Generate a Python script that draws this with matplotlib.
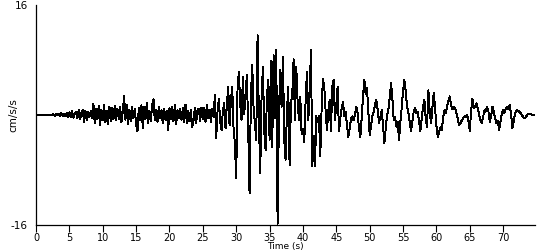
import numpy as np
import matplotlib
matplotlib.use("Agg")
import matplotlib.pyplot as plt

plt.rcParams["axes.unicode_minus"] = False

# acceleration record, one value every 0.2 s (cm/s/s)
dt = 0.2
acc_00 = [0, 0, 0, 0, 0, 0, 0, 0, 0, 0, 0, 0, 0, 0.1, -0.1, 0.2, 0.0, 0.2, -0.2, 0.3, -0.1, 0.2, -0.2, 0.3, -0.3]
acc_05 = [0.4, -0.3, 0.6, -0.4, 0.2, 0.5, -0.5, 0.7, -0.6, 0.3, 0.8, -1.0, 0.6, -0.7, 0.5, -0.3, 0.6, -0.5, 1.6, -1.2, 0.9, -0.6, 1.3, -1.5, 0.8]
acc_10 = [-0.8, 1.5, -1.0, 0.6, -1.3, 1.2, -0.9, 1.0, -0.6, 1.3, -0.8, 0.9, -0.6, 1.2, -1.1, 0.5, 2.8, -0.7, 1.5, -1.3, 0.8, -0.9, 1.2, -0.5, 0.9]
acc_15 = [-1.4, -2.4, 1.0, -0.8, 1.4, -1.9, 1.2, -0.6, 1.7, -1.2, 0.6, -0.9, 1.5, 2.3, -0.8, 0.8, -1.0, 1.2, -0.5, 0.7, -1.2, 0.9, -0.7, 0.6, -2.2]
acc_20 = [1.0, -0.6, 1.2, -0.9, 1.4, -1.3, 0.7, -0.5, 0.9, -0.7, 1.0, -1.1, 1.5, -1.2, 0.6, -0.9, 0.8, -1.7, -0.8, 1.0, -1.2, 0.7, 0.9, -0.9, 1.1]
acc_25 = [-0.6, 1.0, -1.0, 1.5, -0.4, 0.8, -1.0, 0.9, -0.3, 2.9, -3.4, 0.5, 2.3, -1.0, -2.2, 0.6, 1.7, -1.9, 1.5, 4.1, -1.5, 2.0, 4.1, -1.9, -4.1]
acc_30 = [-9.2, 4.0, 6.3, 1.5, -0.7, 5.6, 0.2, 3.0, 5.8, -2.2, -11.4, 2.7, 7.3, 1.0, -1.2, -3.6, 11.6, -0.7, -8.5, 2.7, 7.0, -2.4, -5.1, 2.7, 5.1]
acc_35 = [-3.6, 7.8, -4.6, 8.7, -0.5, 9.5, -15.8, 0.0, 6.5, 1.2, 8.5, -3.6, -6.5, 0.5, 4.1, -7.3, 1.7, 3.0, 8.1, -0.7, 7.0, 2.0, -0.7, 2.7, -2.7]
acc_40 = [-2.0, -3.9, 2.0, 6.3, -0.7, 3.0, 9.5, -7.5, -3.0, -7.5, -0.2, -1.0, -0.2, -6.0, 1.0, 5.3, 4.1, 0.5, -2.2, 0.5, 2.2, -2.4, 4.1, 5.1, -0.7]
acc_45 = [1.5, 4.1, -2.4, -0.5, 1.0, 1.9, -0.2, 0.5, -1.5, -3.2, -2.0, -0.5, -0.2, -0.8, 0.0, 1.2, 0.3, -2.0, -3.2, -0.5, 2.7, 5.1, 3.0, 3.9, 0.5]
acc_50 = [-2.9, -1.5, -0.2, 0.5, 1.5, 2.2, 0.8, -1.2, -0.3, 0.7, -1.5, -4.1, -2.0, 0.0, 0.7, 2.5, 4.6, 2.5, -0.7, -0.3, -1.7, -1.0, -3.6, -1.0, 1.0]
acc_55 = [3.5, 5.1, 3.5, 1.2, 0.3, -1.0, -2.4, -1.0, 0.5, 1.0, 0.3, 0.5, -1.0, -2.3, -0.5, 1.2, 2.2, -0.5, -1.7, 3.6, 0.5, -1.2, 1.0, 3.2, 1.0]
acc_60 = [-1.5, -3.2, -2.5, -1.8, -2.2, -0.5, 0.7, 0.3, 1.2, 2.0, 2.7, 1.5, 0.8, 1.2, 1.0, 0.2, -0.5, -1.5, -1.2, -0.8, -0.5, -0.2, -0.3, 0.0, -0.8]
acc_65 = [-2.3, 0.5, 2.4, 1.0, 1.3, 1.7, 1.0, 0.0, -0.8, -1.2, -0.3, 0.7, 0.5, 1.2, 0.5, -1.0, -0.2, 1.2, 0.5, -0.5, -1.2, -0.8, -2.2, -1.0, 0.2]
acc_70 = [0.7, 0.3, 1.0, 1.2, 0.8, 1.5, 0.0, -1.9, -0.8, 0.2, 0.7, 0.6, 0.5, 0.3, 0.0, -0.3, -0.5, -0.3, 0.0, 0.2, 0.2, 0.1, 0.0, 0.0]

acc = np.array(acc_00 + acc_05 + acc_10 + acc_15 + acc_20 + acc_25 + acc_30 + acc_35
               + acc_40 + acc_45 + acc_50 + acc_55 + acc_60 + acc_65 + acc_70)
time = np.arange(len(acc)) * dt

xticks = list(range(0, 75, 5))

fig = plt.figure(figsize=(5.5, 2.5), dpi=100)
ax = fig.add_axes([0.0655, 0.10, 0.9075, 0.88])
ax.plot(time, acc, color="black", lw=0.7, antialiased=False)

ax.set_xlim(0, 74.8)
ax.set_ylim(-16, 16)
ax.set_xticks(xticks)
ax.set_yticks([-16, 16])
ax.tick_params(axis="x", direction="out", length=5, width=0.8, labelsize=7, pad=0.5)
ax.tick_params(axis="y", direction="out", length=0, labelsize=7.5, pad=6)
ax.set_xlabel("Time (s)", fontsize=6.5, va="top")
ax.xaxis.set_label_coords(0.5, -0.075)
ax.set_ylabel("cm/s/s", fontsize=7.5)
ax.yaxis.set_label_coords(-0.035, 0.5)

for s in ["top", "right"]:
    ax.spines[s].set_visible(False)
ax.spines["left"].set_linewidth(0.9)
ax.spines["bottom"].set_linewidth(0.9)

fig.savefig("out.png", dpi=100)
